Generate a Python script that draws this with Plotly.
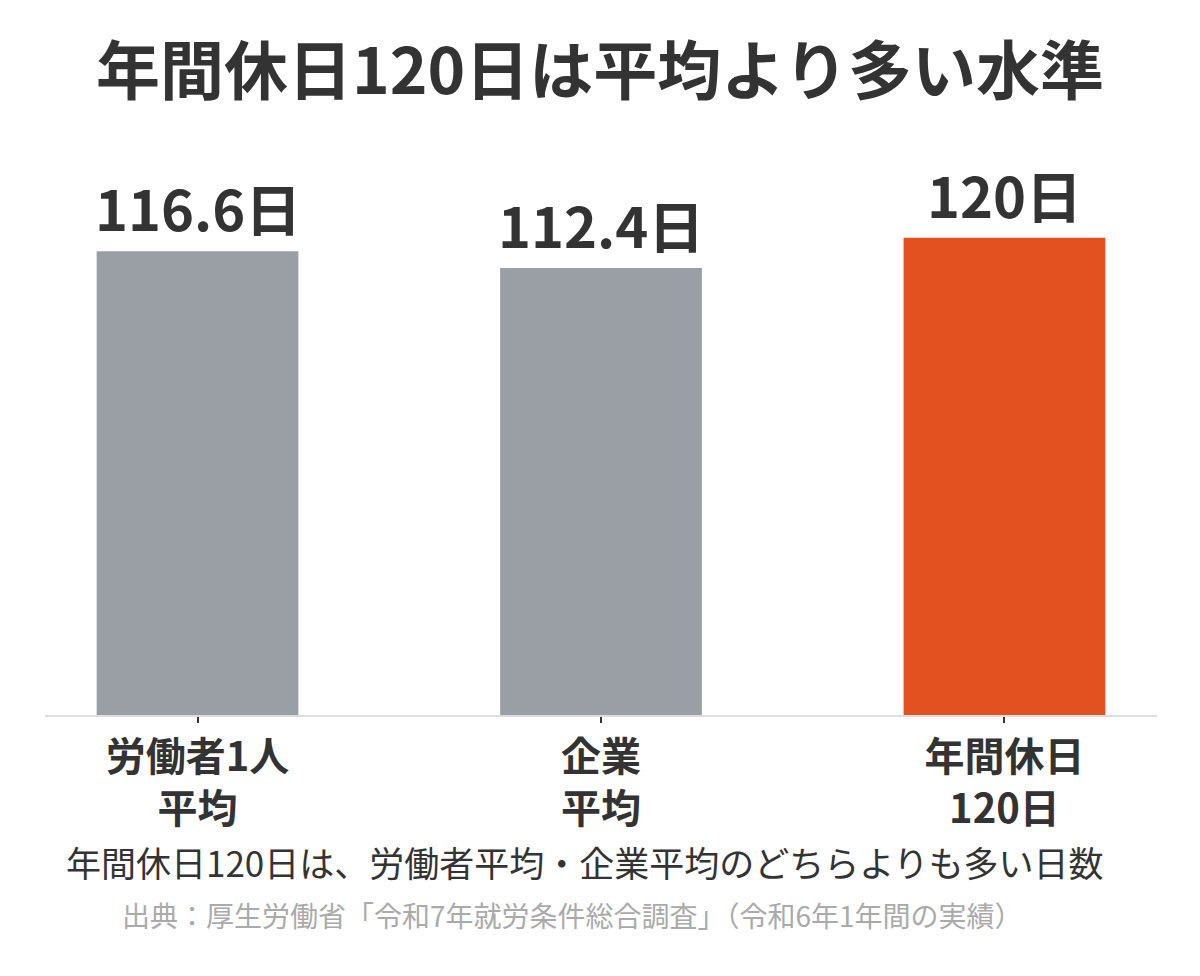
import plotly.graph_objects as go

categories = ["労働者1人<br>平均", "企業<br>平均", "年間休日<br>120日"]
values = [116.6, 112.4, 120]
bar_colors = ["#9a9ea5", "#9a9ea5", "#e2511f"]
title_text = "年間休日120日は平均より多い水準"
note_text = "年間休日120日は、労働者平均・企業平均のどちらよりも多い日数"
source_text = "出典：厚生労働省「令和7年就労条件総合調査」（令和6年1年間の実績）"

FONT = "Noto Sans CJK JP"
DARK = "#333333"

fig = go.Figure()
fig.add_trace(go.Bar(
    x=categories, y=values, marker_color=bar_colors, width=0.5,
    marker_line_width=0, hoverinfo="skip",
))

annotations = []
for c, v in zip(categories, values):
    annotations.append(dict(
        x=c, y=v, xref="x", yref="y", text=f"{v:g}日", showarrow=False,
        yanchor="bottom", yshift=2,
        font=dict(family=FONT, size=56, color=DARK, weight="bold"),
    ))
annotations.append(dict(
    x=0.4856, y=-0.272, xref="paper", yref="paper", text=note_text, showarrow=False,
    xanchor="center", yanchor="middle",
    font=dict(family=FONT, size=35, color=DARK),
))
annotations.append(dict(
    x=0.474, y=-0.372, xref="paper", yref="paper", text=source_text, showarrow=False,
    xanchor="center", yanchor="middle",
    font=dict(family=FONT, size=28, color="#aaaaaa"),
))

fig.update_layout(
    width=1200, height=976,
    margin=dict(l=45, r=43, t=178, b=261),
    paper_bgcolor="white", plot_bgcolor="white",
    showlegend=False,
    title=dict(
        text=title_text, x=0.5, xanchor="center", y=1 - 72 / 976, yanchor="middle",
        font=dict(family=FONT, size=64, color=DARK, weight="bold"),
    ),
    xaxis=dict(
        range=[-0.378, 2.378], showgrid=False, zeroline=False,
        showline=True, linecolor="#dddddd", linewidth=2,
        ticks="outside", ticklen=6, tickwidth=1.5, tickcolor=DARK,
        tickfont=dict(family=FONT, size=40, color=DARK, weight="bold"),
    ),
    yaxis=dict(range=[0, 135], visible=False, showgrid=False, zeroline=False),
    annotations=annotations,
)

fig.write_html("out.html")
